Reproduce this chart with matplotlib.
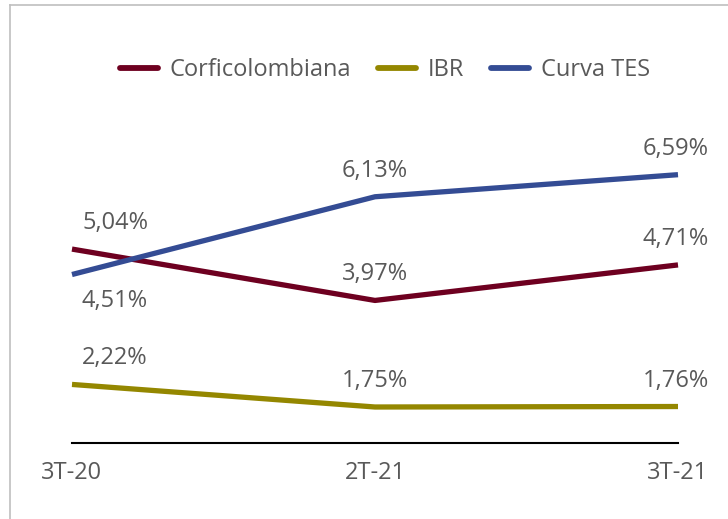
import matplotlib
matplotlib.use("Agg")
import matplotlib.pyplot as plt
from matplotlib.lines import Line2D

categories = ["3T-20", "2T-21", "3T-21"]
corfi = [5.04, 3.97, 4.71]
ibr = [2.22, 1.75, 1.76]
tes = [4.51, 6.13, 6.59]
series_names = ["Corficolombiana", "IBR", "Curva TES"]

colors = ["#6E0020", "#948700", "#344C94"]
label_side = [[1, 1, 1], [1, 1, 1], [-1, 1, 1]]  # +1 above, -1 below

W, H = 728, 519
FS = 17
plt.rcParams['font.family'] = ['Open Sans', 'DejaVu Sans']
fig = plt.figure(figsize=(W / 100, H / 100), dpi=100)

# chart border (partially cropped)
fig.add_artist(Line2D([10 / W, 10 / W], [0, 1 - 5 / H], color="#BFBFBF", lw=1.2))
fig.add_artist(Line2D([10 / W, 1], [1 - 5 / H, 1 - 5 / H], color="#BFBFBF", lw=1.2))

left, right = 72, 678
bottom, top = 443, 155
ax = fig.add_axes([left / W, 1 - bottom / H, (right - left) / W, (bottom - top) / H])
ax.set_xlim(0, 2)
ax.set_ylim(1, 7)
for s in ["top", "right", "left"]:
    ax.spines[s].set_visible(False)
ax.spines["bottom"].set_color("black")
ax.spines["bottom"].set_linewidth(1.5)
ax.set_yticks([])
ax.set_xticks(range(len(categories)))
ax.set_xticklabels(categories)
ax.tick_params(axis="x", length=0, pad=13, labelsize=FS, labelcolor="#595959")

data = [corfi, ibr, tes]
handles = []
for vals, col, name, sides in zip(data, colors, series_names, label_side):
    h, = ax.plot(range(len(vals)), vals, color=col, lw=3.8, solid_capstyle="butt", label=name, clip_on=False)
    handles.append(h)
    for i, v in enumerate(vals):
        dx = 43 if i == 0 else (-2 if i == len(vals) - 1 else 0)
        dy = 26 * sides[i]
        ax.annotate(f"{v:.2f}%".replace(".", ","), (i, v), xytext=(dx, dy),
                    textcoords="offset pixels", ha="center", va="center",
                    fontsize=FS, color="#595959")

leg = fig.legend(handles=handles, loc="center", bbox_to_anchor=(385 / W, 1 - 70 / H),
                 ncol=3, frameon=False, fontsize=FS, handlelength=1.6,
                 columnspacing=1.15, handletextpad=0.5, labelcolor="#595959")
for l in leg.get_lines():
    l.set_solid_capstyle("round")
    l.set_linewidth(4.2)

fig.savefig("out.png", dpi=100)
